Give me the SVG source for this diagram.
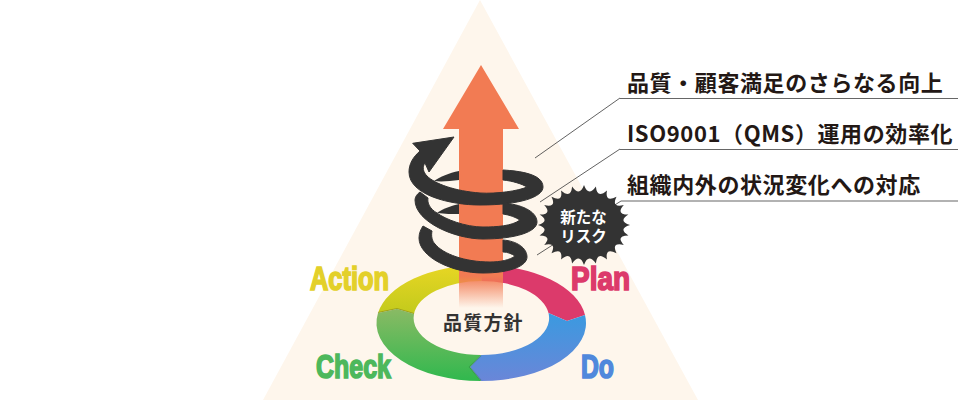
<svg xmlns="http://www.w3.org/2000/svg" width="960" height="400" viewBox="0 0 960 400">
<style>
.cap{font-family:"Noto Sans CJK JP","Noto Sans",sans-serif;font-weight:700;font-size:22px;letter-spacing:.6px;fill:#231815}
.pdca{font-family:"Liberation Sans",Arial,sans-serif;font-weight:700;font-size:33px;stroke-width:1.7}
.leader{fill:none;stroke:#3a3a3a;stroke-width:.8}
.rule{fill:none;stroke:#666;stroke-width:1.2}
.coil{fill:#333;stroke:#333;stroke-width:1;stroke-linejoin:round}
.star{font-family:"Noto Sans CJK JP","Noto Sans",sans-serif;font-weight:700;font-size:15.5px;fill:#fff;text-anchor:middle}
</style>
<defs>
<linearGradient id="gAction" x1="0" y1="0" x2="0" y2="1"><stop offset="0" stop-color="#e8d624"/><stop offset="1" stop-color="#c2ca1c"/></linearGradient>
<linearGradient id="gDo" x1="0" y1="0" x2="0" y2="1"><stop offset="0" stop-color="#3a9ae0"/><stop offset="1" stop-color="#6a86d8"/></linearGradient>
<linearGradient id="gCheck" x1="0" y1="0" x2="0" y2="1"><stop offset="0" stop-color="#8aba64"/><stop offset="1" stop-color="#30b84e"/></linearGradient>
<linearGradient id="gArrow" gradientUnits="userSpaceOnUse" x1="0" y1="276" x2="0" y2="308"><stop offset="0" stop-color="#f27b53"/><stop offset="1" stop-color="#f27b53" stop-opacity="0"/></linearGradient>
</defs>
<polygon id="triangle" points="480,0 698,400 263,400" fill="#fef6ec"/>
<g id="connectors">
<polyline class="leader" points="535,158 620,98"/><line class="rule" x1="620" y1="98.5" x2="958" y2="98.5"/>
<polyline class="leader" points="540,202 620,149"/><line class="rule" x1="620" y1="149.5" x2="958" y2="149.5"/>
<polyline class="leader" points="537,255 621,201"/><line class="rule" x1="621" y1="201" x2="958" y2="201"/>
</g>
<g id="pdca-cycle">
<path id="seg-action" fill="url(#gAction)" d="M481.5,265 A104.5,58 0 0 0 378,313 L397,309 L414,314 A67.5,37 0 0 1 481.5,281 Z"/>
<path id="seg-plan" fill="#dc3a6b" d="M481.5,265 A104.5,58 0 0 1 585,315 L567,321 L548.5,313 A67.5,37 0 0 0 481.5,281 Z"/>
<path id="seg-do" fill="url(#gDo)" d="M585,315 A104.5,58 0 0 1 481,381 L470,367 L481,355 A67.5,37 0 0 0 548.5,313 L567,321 Z"/>
<path id="seg-check" fill="url(#gCheck)" d="M481,381 A104.5,58 0 0 1 378,313 L397,309 L414,314 A67.5,37 0 0 0 481,355 L470,367 Z"/>
<path fill="none" stroke="#5a5a10" stroke-opacity=".35" stroke-width="1.2" d="M378,312.5 L397,308.5 L414,313.5"/>
<path fill="none" stroke="#1c6a30" stroke-opacity=".35" stroke-width="1.2" d="M481,355.5 L469.5,367 L481,380.5"/>
</g>
<g id="arrow"><path fill="#f27b53" d="M481,65 L519,129 L503,129 L503,276 L459,276 L459,129 L443,129 Z"/><rect x="459" y="276" width="44" height="32" fill="url(#gArrow)"/></g>
<g id="spiral">
<path fill="#333" d="M459,171 L459,180 C450,181 442,182 434,181 C440,177 449,173 459,171 Z"/>
<path fill="#333" d="M459,204 L459,214 C452,214 445,214 437,213 C444,208 451,206 459,204 Z"/>
<path class="coil" d="M412.7,143.3 L454,137 L429,172 L425,163 C422,167 423,172 427,176 C435,184 455,191 480,193 C497,194 518,191 527,187 C522,184 513,181 503,180 L503,170 C520,171 543,174 543,187 C543,197 520,205 480,205 C450,205 409,195 409,172 C409,164 413,157 420,151 Z"/>
<path class="coil" d="M420,192 L428,198 C427,203 430,209 437,213 C445,219 465,227 483,227 C497,227 512,226 520,220 C515,217 510,215 503,214 L503,203 C520,204 537,211 537,222 C537,232 515,239 483,239 C455,239 415,222 415,200 C415,197 417,194 420,192 Z"/>
<path class="coil" d="M423,226 L432,231 C431,236 432,241 435,244 C443,254 465,262 490,262 C500,262 510,260 515,256 C512,254 508,252 503,252 L503,240 C517,241 527,248 527,257 C527,266 510,273 483,273 C452,273 419,257 419,238 C419,233 421,229 423,226 Z"/>
</g>
<g id="risk">
<path fill="#333" d="M630,225 Q617.7,228.6 628.4,235.4 Q615.4,235.7 623.8,245 Q611,242 616.5,253.3 Q604.7,247.2 607,259.6 Q597,250.9 595.9,263.6 Q588.4,252.8 584,265 Q579.6,252.8 572.1,263.6 Q571,250.9 561,259.6 Q563.3,247.2 551.5,253.3 Q557,242 544.2,245 Q552.6,235.7 539.6,235.4 Q550.3,228.6 538,225 Q550.3,221.4 539.6,214.6 Q552.6,214.3 544.2,205 Q557,208 551.5,196.7 Q563.3,202.8 561,190.4 Q571,199.1 572.1,186.4 Q579.6,197.2 584,185 Q588.4,197.2 595.9,186.4 Q597,199.1 607,190.4 Q604.7,202.8 616.5,196.7 Q611,208 623.8,205 Q615.4,214.3 628.4,214.6 Q617.7,221.4 630,225 Z"/>
<text class="star" x="583.5" y="223">新たな</text>
<text class="star" x="583.5" y="242">リスク</text>
</g>
<g id="policy"><text x="443" y="330" font-family="'Noto Sans CJK JP','Noto Sans',sans-serif" font-weight="700" font-size="19" letter-spacing="1.2" fill="#333">品質方針</text></g>
<g id="labels">
<text class="pdca" x="310" y="290" textLength="79" lengthAdjust="spacingAndGlyphs" fill="#e3d02a" stroke="#e3d02a">Action</text>
<text class="pdca" x="571" y="290" textLength="59" lengthAdjust="spacingAndGlyphs" fill="#dc3a6b" stroke="#dc3a6b">Plan</text>
<text class="pdca" x="316" y="378" textLength="75" lengthAdjust="spacingAndGlyphs" fill="#4db85c" stroke="#4db85c">Check</text>
<text class="pdca" x="581" y="378" textLength="33" lengthAdjust="spacingAndGlyphs" fill="#5088dc" stroke="#5088dc">Do</text>
</g>
<g id="captions">
<text class="cap" x="627" y="91">品質・顧客満足のさらなる向上</text>
<text class="cap" x="627" y="142">ISO9001（QMS）運用の効率化</text>
<text class="cap" x="627" y="193">組織内外の状況変化への対応</text>
</g>
</svg>
